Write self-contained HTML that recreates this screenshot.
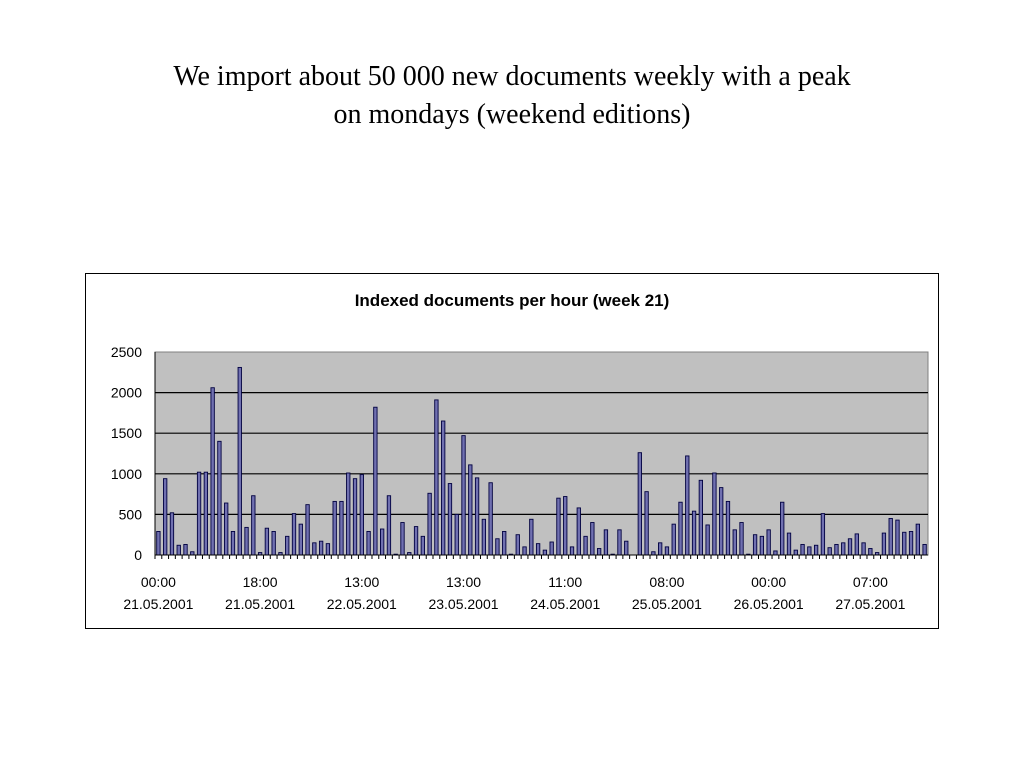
<!DOCTYPE html>
<html><head><meta charset="utf-8"><style>
body{margin:0;width:1024px;height:768px;background:#fff;overflow:hidden;font-family:"Liberation Sans",sans-serif}
#title{position:absolute;left:0;top:58px;width:1024px;text-align:center;font-family:"Liberation Serif",serif;font-size:28px;line-height:38px;color:#000}
#box{position:absolute;left:85px;top:273px;width:852px;height:354px;border:1px solid #000}
</style></head><body>
<div id="title">We import about 50 000 new documents weekly with a peak<br>on mondays (weekend editions)</div>
<div id="box"></div>
<svg id="chart" width="1024" height="768" style="position:absolute;left:0;top:0"></svg>
<script>
const values=[290,940,520,120,130,40,1020,1020,2060,1400,
640,290,2310,340,730,30,330,290,30,230,
510,380,620,150,170,140,660,660,1010,940,
990,290,1820,320,730,10,400,30,350,230,
760,1910,1650,880,500,1470,1110,950,440,890,
200,290,10,250,100,440,140,60,160,700,
720,100,580,230,400,80,310,10,310,170,
0,1260,780,40,150,100,380,650,1220,540,
920,370,1010,830,660,310,400,10,250,230,
310,50,650,270,60,130,100,120,510,90,
130,150,200,260,150,80,30,270,450,430,
280,290,380,130];
const yTicks=[0,500,1000,1500,2000,2500];
const xTickIdx=[0,15,30,45,60,75,90,105];
const xTickTime=["00:00","18:00","13:00","13:00","11:00","08:00","00:00","07:00"];
const xTickDate=["21.05.2001","21.05.2001","22.05.2001","23.05.2001","24.05.2001","25.05.2001","26.05.2001","27.05.2001"];
const NS="http://www.w3.org/2000/svg",svg=document.getElementById('chart');
const L=155,R=928,T=352,B=555,yMax=2500;
const step=(R-L)/values.length;
const y=v=>B-(v/yMax)*(B-T);
const xc=i=>L+step*(i+0.5);
function mk(t,a,p){const e=document.createElementNS(NS,t);for(const k in a)e.setAttribute(k,a[k]);(p||svg).appendChild(e);return e;}
let e=mk('text',{x:512,y:306,'text-anchor':'middle','font-size':'17','font-weight':'bold','font-family':'Liberation Sans'});e.textContent='Indexed documents per hour (week 21)';


e=mk('rect',{x:L,y:T,width:R-L,height:B-T,fill:'#c0c0c0',stroke:'#808080'});


yTicks.forEach(v=>{
 if(v>0&&v<yMax){const g=mk('line',{x1:L,x2:R,y1:y(v),y2:y(v),stroke:'#000','stroke-width':1.2});
 
 }
 const t=mk('text',{x:142,y:y(v)+5,'text-anchor':'end','font-size':'14'});t.textContent=v;
 
 
});
values.forEach((v,i)=>{
 const r=mk('rect',{x:xc(i)-1.7,y:y(v),width:3.4,height:B-y(v),fill:'#7070b0',stroke:'#000040','stroke-width':0.9});
 
 
 const tk=mk('line',{x1:L+step*i,x2:L+step*i,y1:B,y2:B+4,stroke:'#000'});
 
 
});
mk('line',{x1:L,x2:R,y1:B,y2:B,stroke:'#000'});
mk('line',{x1:L,x2:L,y1:T,y2:B,stroke:'#000'});
xTickIdx.forEach((idx,k)=>{
 const t1=mk('text',{x:xc(idx),y:587,'text-anchor':'middle','font-size':'14'});t1.textContent=xTickTime[k];
 
 
 const t2=mk('text',{x:xc(idx),y:609,'text-anchor':'middle','font-size':'14'});t2.textContent=xTickDate[k];
 
 
});
</script>
</body></html>
